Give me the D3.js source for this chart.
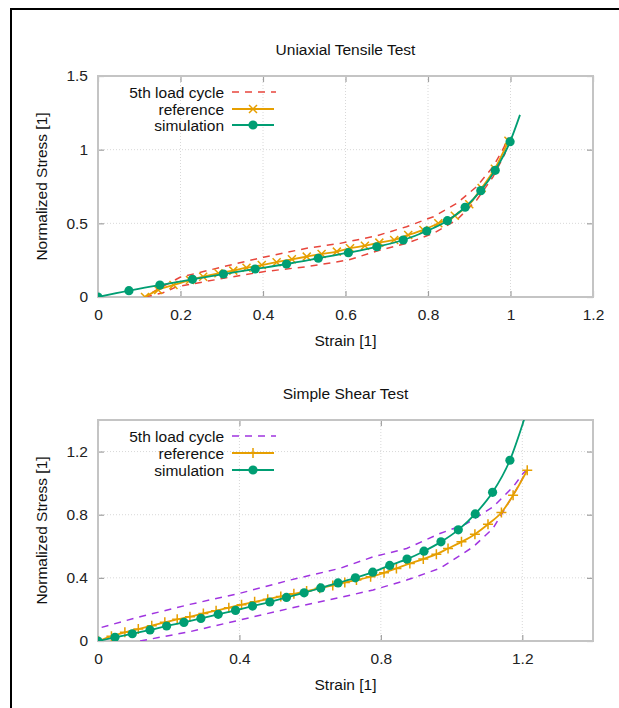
<!DOCTYPE html>
<html>
<head>
<meta charset="utf-8">
<script src="https://cdn.jsdelivr.net/npm/d3@7"></script>
<style>
  body { margin: 0; background: #fff; }
  svg text { font-family: "Liberation Sans", Arial, sans-serif; }
</style>
</head>
<body>
<div id="chart"></div>
<script>
// ---- uniaxial tensile test ----
const tensileSimX = [0, 0.075, 0.150, 0.229, 0.304, 0.381, 0.457, 0.534, 0.607, 0.676, 0.740, 0.797, 0.847, 0.890, 0.928, 0.963, 0.999, 1.023];
const tensileSimY = [0, 0.043, 0.081, 0.120, 0.156, 0.190, 0.224, 0.263, 0.301, 0.341, 0.387, 0.448, 0.518, 0.609, 0.722, 0.860, 1.054, 1.236];
const tensileRefX = [0.114, 0.146, 0.183, 0.223, 0.255, 0.292, 0.328, 0.360, 0.397, 0.433, 0.470, 0.506, 0.542, 0.579, 0.611, 0.647, 0.682, 0.718, 0.752, 0.789, 0.825, 0.865, 0.900, 0.930, 0.962, 0.995];
const tensileRefY = [0, 0.048, 0.081, 0.115, 0.138, 0.161, 0.179, 0.199, 0.217, 0.236, 0.256, 0.274, 0.292, 0.308, 0.331, 0.348, 0.369, 0.387, 0.421, 0.455, 0.500, 0.552, 0.630, 0.740, 0.870, 1.060];
// 5th load cycle: loading branch then unloading branch
const tensileCycleX = [0.114, 0.158, 0.191, 0.304, 0.401, 0.506, 0.607, 0.676, 0.748, 0.813, 0.870, 0.918, 0.958, 0.987, 0.994,
                       0.983, 0.958, 0.918, 0.870, 0.813, 0.748, 0.676, 0.587, 0.506, 0.401, 0.304, 0.199, 0.142, 0.114];
const tensileCycleY = [0, 0.029, 0.070, 0.127, 0.172, 0.206, 0.251, 0.312, 0.364, 0.432, 0.523, 0.659, 0.817, 0.976, 1.080,
                       1.010, 0.885, 0.749, 0.636, 0.545, 0.477, 0.416, 0.364, 0.331, 0.270, 0.206, 0.134, 0.048, 0];

// ---- simple shear test ----
const shearSimX = [0, 0.048, 0.097, 0.147, 0.194, 0.243, 0.291, 0.340, 0.389, 0.437, 0.486, 0.533, 0.583, 0.630, 0.679, 0.728, 0.777, 0.825, 0.874, 0.922, 0.970, 1.019, 1.067, 1.116, 1.165, 1.205];
const shearSimY = [0, 0.023, 0.046, 0.070, 0.095, 0.118, 0.143, 0.169, 0.194, 0.221, 0.247, 0.276, 0.305, 0.336, 0.368, 0.400, 0.436, 0.479, 0.519, 0.569, 0.628, 0.704, 0.805, 0.942, 1.145, 1.402];
const shearRefX = [0, 0.038, 0.076, 0.114, 0.152, 0.189, 0.224, 0.260, 0.298, 0.334, 0.370, 0.406, 0.443, 0.480, 0.517, 0.554, 0.590, 0.627, 0.664, 0.698, 0.731, 0.771, 0.809, 0.844, 0.882, 0.920, 0.957, 0.990, 1.028, 1.066, 1.103, 1.141, 1.174, 1.214];
const shearRefY = [0, 0.030, 0.055, 0.076, 0.097, 0.118, 0.137, 0.154, 0.175, 0.192, 0.211, 0.230, 0.248, 0.265, 0.282, 0.299, 0.316, 0.334, 0.352, 0.371, 0.386, 0.407, 0.432, 0.460, 0.491, 0.519, 0.550, 0.586, 0.628, 0.677, 0.740, 0.814, 0.923, 1.082];
const shearCycleX = [0.119, 0.260, 0.401, 0.543, 0.693, 0.778, 0.873, 0.967, 1.061, 1.117, 1.154, 1.193, 1.212,
                     1.202, 1.174, 1.117, 1.040, 0.967, 0.873, 0.778, 0.684, 0.543, 0.401, 0.260, 0.119, 0];
const shearCycleY = [0, 0.059, 0.133, 0.207, 0.280, 0.323, 0.386, 0.460, 0.596, 0.713, 0.849, 0.997, 1.082,
                     1.061, 0.976, 0.849, 0.740, 0.681, 0.586, 0.533, 0.460, 0.386, 0.302, 0.232, 0.154, 0.080];

const tensileXTicks = [0, 0.2, 0.4, 0.6, 0.8, 1, 1.2];
const tensileYTicks = [0, 0.5, 1, 1.5];
const shearXTicks = [0, 0.4, 0.8, 1.2];
const shearYTicks = [0, 0.4, 0.8, 1.2];
const legendLabels = ["5th load cycle", "reference", "simulation"];

const W = 619, H = 708;
const FS = 15.5;
const svg = d3.select("#chart").append("svg").attr("width", W).attr("height", H);

// outer black frame
svg.append("path")
    .attr("d", "M11,708 V9 H619")
    .attr("fill", "none").attr("stroke", "#000").attr("stroke-width", 2);

const zip = (xs, ys) => xs.map((x, i) => ({x: x, y: ys[i]}));

function marker(g, type, x, y, color) {
    if (type == "circle") {
        g.append("circle").attr("cx", x).attr("cy", y).attr("r", 4.6).attr("fill", color);
    } else if (type == "cross") {
        const s = 4;
        g.append("path").attr("d", `M${x-s},${y-s}L${x+s},${y+s}M${x-s},${y+s}L${x+s},${y-s}`)
            .attr("stroke", color).attr("stroke-width", 1.5).attr("fill", "none");
    } else {
        const s = 5;
        g.append("path").attr("d", `M${x-s},${y}L${x+s},${y}M${x},${y-s}L${x},${y+s}`)
            .attr("stroke", color).attr("stroke-width", 1.5).attr("fill", "none");
    }
}

function drawPanel(cfg) {
    const x = d3.scaleLinear().domain(cfg.xDomain).range([98, 593]);
    const y = d3.scaleLinear().domain(cfg.yDomain).range([cfg.bottom, cfg.top]);
    const g = svg.append("g");
    const clipId = "clip" + cfg.id;
    g.append("clipPath").attr("id", clipId).append("rect")
        .attr("x", 98).attr("y", cfg.top).attr("width", 495).attr("height", cfg.bottom - cfg.top);

    // grid
    g.selectAll(".gx").data(cfg.xTicks.filter(d => d > cfg.xDomain[0] && d < cfg.xDomain[1])).enter().append("line")
        .attr("x1", d => x(d)).attr("x2", d => x(d)).attr("y1", cfg.top).attr("y2", cfg.bottom)
        .attr("stroke", "#d8d8d8").attr("stroke-dasharray", "1,2");
    g.selectAll(".gy").data(cfg.yTicks.filter(d => d > cfg.yDomain[0] && d < cfg.yDomain[1])).enter().append("line")
        .attr("x1", 98).attr("x2", 593).attr("y1", d => y(d)).attr("y2", d => y(d))
        .attr("stroke", "#d8d8d8").attr("stroke-dasharray", "1,2");

    // axes (ticks inward)
    const ax = g.append("g").attr("transform", `translate(0,${cfg.bottom})`)
        .call(d3.axisBottom(x).tickValues(cfg.xTicks).tickSize(-6).tickPadding(12).tickFormat(d3.format("")));
    const ay = g.append("g").attr("transform", "translate(98,0)")
        .call(d3.axisLeft(y).tickValues(cfg.yTicks).tickSize(-6).tickPadding(10).tickFormat(d3.format("")));
    const axTop = g.append("g").attr("transform", `translate(0,${cfg.top})`)
        .call(d3.axisTop(x).tickValues(cfg.xTicks).tickSize(-6).tickFormat(""));
    const ayRight = g.append("g").attr("transform", "translate(593,0)")
        .call(d3.axisRight(y).tickValues(cfg.yTicks).tickSize(-6).tickFormat(""));
    [ax, ay, axTop, ayRight].forEach(a => {
        a.select(".domain").remove();
        a.selectAll(".tick line").attr("stroke", "#a0a0a0").attr("stroke-width", 1.2);
        a.selectAll("text").attr("font-size", FS).attr("fill", "#222")
            .style("font-family", '"Liberation Sans", Arial, sans-serif');
    });
    g.append("rect").attr("x", 98).attr("y", cfg.top).attr("width", 495).attr("height", cfg.bottom - cfg.top)
        .attr("fill", "none").attr("stroke", "#c4c4c4").attr("stroke-width", 2);

    const plot = g.append("g").attr("clip-path", `url(#${clipId})`);
    const lineFn = d3.line().x(d => x(d.x)).y(d => y(d.y));

    // 5th load cycle
    plot.append("path").datum(cfg.cycle).attr("d", lineFn.curve(d3.curveLinear))
        .attr("fill", "none").attr("stroke", cfg.cycleColor).attr("stroke-width", 1.5)
        .attr("stroke-dasharray", "7,6");
    // reference
    plot.append("path").datum(cfg.ref).attr("d", d3.line().x(d => x(d.x)).y(d => y(d.y)).curve(d3.curveMonotoneX))
        .attr("fill", "none").attr("stroke", "#e69f00").attr("stroke-width", 1.8);
    cfg.ref.forEach(d => marker(plot, cfg.refMarker, x(d.x), y(d.y), "#e69f00"));
    // simulation (last point only continues the line)
    plot.append("path").datum(cfg.sim).attr("d", d3.line().x(d => x(d.x)).y(d => y(d.y)).curve(d3.curveMonotoneX))
        .attr("fill", "none").attr("stroke", "#009e73").attr("stroke-width", 1.8);
    cfg.sim.slice(0, -1).forEach(d => marker(plot, "circle", x(d.x), y(d.y), "#009e73"));

    // legend
    const lg = g.append("g");
    cfg.legendY.forEach((ly, i) => {
        lg.append("text").attr("x", 224).attr("y", ly + 5.5).attr("text-anchor", "end")
            .attr("font-size", FS).attr("fill", "#111").text(legendLabels[i]);
        if (i == 0) {
            lg.append("line").attr("x1", 232).attr("x2", 276).attr("y1", ly).attr("y2", ly)
                .attr("stroke", cfg.cycleColor).attr("stroke-width", 1.5).attr("stroke-dasharray", "7,6");
        } else {
            const c = i == 1 ? "#e69f00" : "#009e73";
            lg.append("line").attr("x1", 232).attr("x2", 274).attr("y1", ly).attr("y2", ly)
                .attr("stroke", c).attr("stroke-width", 1.8);
            marker(lg, i == 1 ? cfg.refMarker : "circle", 253, ly, c);
        }
    });

    // titles and labels
    g.append("text").attr("x", 345.5).attr("y", cfg.top - 21).attr("text-anchor", "middle")
        .attr("font-size", FS).attr("fill", "#111").text(cfg.title);
    g.append("text").attr("x", 345.5).attr("y", cfg.bottom + 49).attr("text-anchor", "middle")
        .attr("font-size", FS).attr("fill", "#111").text("Strain [1]");
    g.append("text").attr("transform", `translate(47,${(cfg.top + cfg.bottom) / 2}) rotate(-90)`)
        .attr("text-anchor", "middle").attr("font-size", FS).attr("fill", "#111").text("Normalized Stress [1]");
}

drawPanel({
    id: 1, title: "Uniaxial Tensile Test", top: 76, bottom: 297,
    xDomain: [0, 1.2], yDomain: [0, 1.5], xTicks: tensileXTicks, yTicks: tensileYTicks,
    sim: zip(tensileSimX, tensileSimY), ref: zip(tensileRefX, tensileRefY), cycle: zip(tensileCycleX, tensileCycleY),
    cycleColor: "#e8463c", refMarker: "cross", legendY: [92, 109, 125]
});
drawPanel({
    id: 2, title: "Simple Shear Test", top: 420, bottom: 641,
    xDomain: [0, 1.4], yDomain: [0, 1.4], xTicks: shearXTicks, yTicks: shearYTicks,
    sim: zip(shearSimX, shearSimY), ref: zip(shearRefX, shearRefY), cycle: zip(shearCycleX, shearCycleY),
    cycleColor: "#a034e0", refMarker: "plus", legendY: [436, 453, 470]
});
</script>
</body>
</html>
